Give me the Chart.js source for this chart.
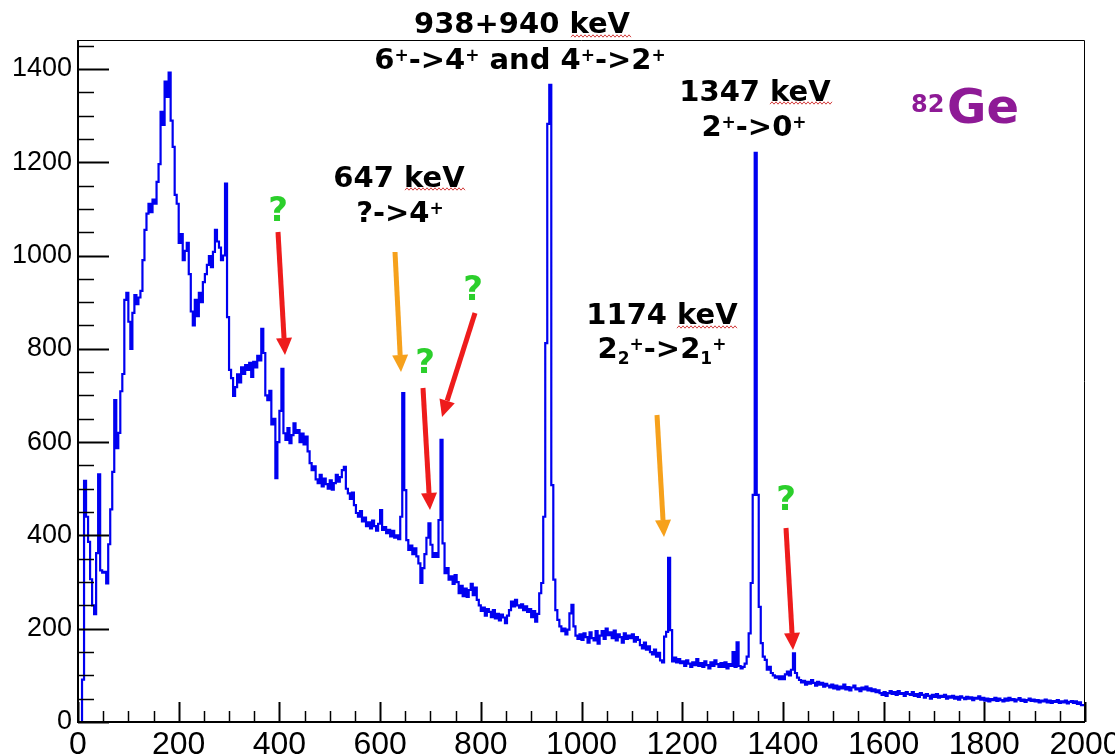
<!DOCTYPE html>
<html>
<head>
<meta charset="utf-8">
<script src="https://cdn.jsdelivr.net/npm/chart.js@4.4.1/dist/chart.umd.min.js"></script>
<style>
html,body{margin:0;padding:0;background:#fff;}
#wrap{width:1115px;height:756px;}
</style>
</head>
<body>
<div id="wrap"><canvas id="c" width="1115" height="756"></canvas></div>
<script>
// ---- data (4 keV bins, counts) ----
const binWidth = 4;
const counts_0_400 = [0,0,0,91,517,440,386,306,250,231,
362,531,325,320,322,297,381,456,536,690,
587,620,709,746,905,920,858,800,877,915,
896,910,924,990,1055,1090,1111,1093,1120,1111,
1158,1196,1308,1280,1373,1340,1392,1289,1233,1130,
1111,1027,1046,990,1010,1027,960,880,850,905,
870,920,900,943,960,980,999,975,1008,1055,
1030,1017,990,1000,1154,868,755,737,699,718,
745,728,760,746,765,755,770,740,772,760,
785,775,843,791,700,690,710,638,650,523];
const counts_400_800 = [600,667,757,619,605,630,598,615,640,620,
626,600,618,595,612,580,555,540,548,520,
512,530,505,522,510,500,518,498,512,530,
515,525,540,547,500,490,478,492,465,448,
440,452,430,438,420,428,415,432,420,410,
425,454,412,418,405,412,398,410,395,400,
392,440,705,497,390,369,378,360,372,355,
340,298,330,360,395,426,380,354,362,354,
433,605,383,319,330,305,312,296,315,300,
276,292,270,286,268,283,296,272,288,262];
const counts_800_1200 = [250,238,245,228,242,236,225,240,222,232,
218,230,224,212,228,240,258,248,262,250,
245,252,240,248,236,242,225,238,215,232,
276,298,440,812,1282,1366,508,305,240,219,
205,195,200,188,198,233,251,205,185,178,
188,176,190,182,170,192,180,175,195,168,
185,195,178,200,186,192,180,196,175,188,
182,170,190,178,185,180,188,172,182,176,
165,158,170,155,162,150,145,155,140,148,
132,128,183,193,352,197,130,138,128,135];
const counts_1200_1600 = [126,130,120,132,125,118,128,122,135,120,
126,118,130,122,115,128,120,132,124,118,
126,118,128,115,124,120,150,118,171,120,
115,118,125,140,190,298,487,1220,487,247,
169,140,133,112,118,105,100,95,98,92,
98,92,102,108,100,112,147,105,95,90,
85,88,80,86,82,90,84,78,86,80,
84,76,82,78,74,80,72,78,70,76,
72,80,70,75,68,74,78,70,72,66,
74,70,76,68,72,66,70,64,68,62];
const counts_1600_2000 = [58,64,56,62,66,60,64,58,66,60,
62,56,64,60,58,64,56,60,54,62,
58,52,60,56,50,58,54,60,52,56,
54,58,50,55,52,56,50,54,48,55,
52,49,54,50,53,47,52,50,55,48,
52,46,50,44,49,47,52,45,50,47,
44,50,46,52,47,49,44,48,51,45,
48,43,47,50,45,48,44,47,42,46,
44,48,42,46,41,45,43,47,41,44,
42,46,40,43,45,41,44,39,42,36];
const xTickValues = [0,200,400,600,800,1000,1200,1400,1600,1800,2000];
const yTickValues = [0,200,400,600,800,1000,1200,1400];

const counts = [].concat(counts_0_400, counts_400_800, counts_800_1200, counts_1200_1600, counts_1600_2000);
const points = counts.map((v, i) => ({x: i * binWidth, y: v}));
points.push({x: counts.length * binWidth, y: counts[counts.length - 1]});

// ---- annotations drawn on top ----
function rich(ctx, segs, cx, base) {
  const fam = '"DejaVu Sans", sans-serif';
  let w = 0;
  segs.forEach(s => { ctx.font = 'bold ' + s[1] + 'px ' + fam; s.w = ctx.measureText(s[0]).width; w += s.w; });
  let x = cx - w / 2;
  ctx.textAlign = 'left'; ctx.textBaseline = 'alphabetic';
  segs.forEach(s => { ctx.font = 'bold ' + s[1] + 'px ' + fam; ctx.fillText(s[0], x, base + (s[2] || 0)); x += s.w; });
}
function squiggle(ctx, x1, x2, y) {
  ctx.save(); ctx.strokeStyle = '#d23c3c'; ctx.lineWidth = 1; ctx.beginPath();
  for (let x = x1, k = 0; x <= x2; x += 2, k++) { const yy = y + (k % 2 ? -1.2 : 1.2); if (k === 0) ctx.moveTo(x, yy); else ctx.lineTo(x, yy); }
  ctx.stroke(); ctx.restore();
}
function arrow(ctx, x1, y1, x2, y2, color) {
  const ang = Math.atan2(y2 - y1, x2 - x1), hl = 17, hw = 8;
  const bx = x2 - hl * Math.cos(ang), by = y2 - hl * Math.sin(ang);
  ctx.save(); ctx.strokeStyle = color; ctx.fillStyle = color; ctx.lineWidth = 5; ctx.lineCap = 'butt';
  ctx.beginPath(); ctx.moveTo(x1, y1); ctx.lineTo(bx, by); ctx.stroke();
  ctx.beginPath(); ctx.moveTo(x2, y2);
  ctx.lineTo(bx + hw * Math.sin(ang), by - hw * Math.cos(ang));
  ctx.lineTo(bx - hw * Math.sin(ang), by + hw * Math.cos(ang));
  ctx.closePath(); ctx.fill(); ctx.restore();
}

const frameTicks = {
  id: 'frameTicks',
  afterDatasetsDraw(chart) {
    const {ctx, chartArea: a, scales: {x, y}} = chart;
    ctx.save();
    ctx.strokeStyle = '#000';
    ctx.lineWidth = 1;
    ctx.beginPath(); ctx.moveTo(a.left, a.top + 0.5); ctx.lineTo(a.right - 0.5, a.top + 0.5); ctx.lineTo(a.right - 0.5, a.bottom); ctx.stroke();
    ctx.lineWidth = 2;
    ctx.beginPath(); ctx.moveTo(a.left, a.top); ctx.lineTo(a.left, a.bottom); ctx.lineTo(a.right, a.bottom); ctx.stroke();
    for (let v = 0; v <= y.max; v += 50) {
      const py = Math.round(y.getPixelForValue(v)) + 0.5;
      const len = v % 200 === 0 ? 31 : 16;
      ctx.lineWidth = v % 200 === 0 ? 2 : 1.5;
      ctx.beginPath(); ctx.moveTo(a.left, py); ctx.lineTo(a.left + len, py); ctx.stroke();
    }
    for (let v = 0; v <= x.max; v += 50) {
      const px = Math.round(x.getPixelForValue(v)) + 0.5;
      const len = v % 200 === 0 ? 20 : 11;
      ctx.lineWidth = v % 200 === 0 ? 2 : 1.5;
      ctx.beginPath(); ctx.moveTo(px, a.bottom); ctx.lineTo(px, a.bottom - len); ctx.stroke();
    }
    ctx.restore();
  },
  afterDraw(chart) {
    const ctx = chart.ctx;
    ctx.save();
    ctx.fillStyle = '#000';
    const P = 29, S = 17, up = -8, dn = 6;
    rich(ctx, [['938+940 keV', P]], 522, 33);
    rich(ctx, [['6', P], ['+', S, up], ['->4', P], ['+', S, up], [' and 4', P], ['+', S, up], ['->2', P], ['+', S, up]], 520, 69);
    rich(ctx, [['1347 keV', P]], 755, 101);
    rich(ctx, [['2', P], ['+', S, up], ['->0', P], ['+', S, up]], 754, 136);
    rich(ctx, [['647 keV', P]], 399, 187);
    rich(ctx, [['?->4', P], ['+', S, up]], 400, 222);
    rich(ctx, [['1174 keV', P]], 662, 324);
    rich(ctx, [['2', P], ['2', S, dn], ['+', S, up], ['->2', P], ['1', S, dn], ['+', S, up]], 662, 358);
    squiggle(ctx, 571, 632, 36);
    squiggle(ctx, 405, 465, 189);
    squiggle(ctx, 770, 832, 103);
    squiggle(ctx, 677, 738, 327);
    // nucleus label
    ctx.fillStyle = '#8e1a96';
    ctx.textAlign = 'left'; ctx.textBaseline = 'alphabetic';
    ctx.font = 'bold 24px "DejaVu Sans", sans-serif';
    ctx.fillText('82', 911, 112);
    ctx.font = 'bold 48px "DejaVu Sans", sans-serif';
    ctx.fillText('Ge', 947, 123);
    // question marks
    ctx.fillStyle = '#2bcf2b';
    ctx.textAlign = 'center';
    ctx.font = 'bold 34px "DejaVu Sans", sans-serif';
    ctx.fillText('?', 278, 221);
    ctx.fillText('?', 473, 300);
    ctx.fillText('?', 425, 373);
    ctx.fillText('?', 786, 510);
    ctx.restore();
    const red = '#ee1c1c', orange = '#f6a11c';
    arrow(ctx, 278, 232, 285, 355, red);
    arrow(ctx, 475, 313, 442, 417, red);
    arrow(ctx, 423, 388, 430, 510, red);
    arrow(ctx, 786, 528, 793, 650, red);
    arrow(ctx, 395, 252, 401, 372, orange);
    arrow(ctx, 657, 415, 664, 537, orange);
  }
};

new Chart(document.getElementById('c'), {
  type: 'line',
  data: {
    datasets: [{
      data: points,
      stepped: 'after',
      borderColor: '#0000f0',
      borderWidth: 2.2,
      pointRadius: 0,
      fill: false
    }]
  },
  options: {
    responsive: false,
    animation: false,
    devicePixelRatio: 1,
    layout: {padding: {left: 0, right: 30, top: 40, bottom: 0}},
    plugins: {legend: {display: false}, tooltip: {enabled: false}},
    scales: {
      x: {
        type: 'linear', min: 0, max: 2000,
        afterFit(s) { s.height = 34; s.paddingLeft = 0; s.paddingRight = 0; },
        afterBuildTicks(s) { s.ticks = xTickValues.map(v => ({value: v})); },
        grid: {display: false, drawTicks: false},
        border: {display: false},
        ticks: {autoSkip: false, maxRotation: 0, padding: 4, color: '#000',
          callback: v => String(v),
          font: {family: '"Liberation Sans Narrow", "Liberation Sans", sans-serif', size: 32}}
      },
      y: {
        type: 'linear', min: 0, max: 1462,
        afterFit(s) { s.width = 78; s.paddingTop = 0; s.paddingBottom = 0; },
        afterBuildTicks(s) { s.ticks = yTickValues.map(v => ({value: v})); },
        grid: {display: false, drawTicks: false},
        border: {display: false},
        ticks: {autoSkip: false, padding: 6, color: '#000',
          callback: v => String(v),
          font: {family: '"Liberation Sans", sans-serif', size: 27}}
      }
    }
  },
  plugins: [frameTicks]
});
</script>
</body>
</html>
